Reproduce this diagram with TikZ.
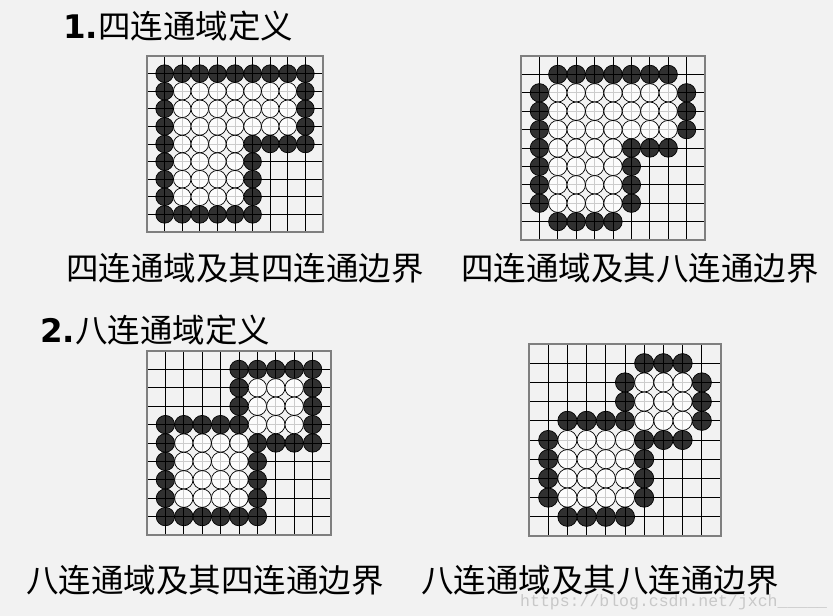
\documentclass[tikz,border=0pt]{standalone}
\usepackage{fontspec}
\newfontfamily\cjk{Noto Sans CJK SC}
\newfontfamily\numfont{DejaVu Sans}
\newfontfamily\wmfont{Liberation Mono}

\definecolor{paper}{HTML}{F2F2F2}
\definecolor{frame}{HTML}{7F7F7F}
\definecolor{stamp}{HTML}{C8C8C8}

% the empty 10x10 board, lines on the integers
\newcommand{\board}{%
  \foreach \i in {1,...,9} {
    \draw[gridline] (\i,0) -- (\i,10);
    \draw[gridline] (0,\i) -- (10,\i);
  }
  \draw[border] (0,0) rectangle (10,10);}
% one row of stones: style, row, columns
\newcommand{\stonerow}[3]{\foreach \c in {#3} { \filldraw[#1] (\c,#2) circle[radius=0.5]; }}

\begin{document}
\begin{tikzpicture}[
  x=1pt, y=-1pt,
  gridline/.style={line width=0.9pt, draw=black},
  border/.style={line width=1.6pt, draw=frame},
  bk/.style={fill=black, fill opacity=0.8, draw=black, line width=0.7pt},
  wt/.style={fill=white, fill opacity=0.8, draw=black, line width=0.7pt},
  head/.style={font=\fontsize{32.5}{36}\selectfont, inner sep=0pt, anchor=west},
  caption/.style={font=\cjk\fontsize{32.5}{36}\selectfont, inner sep=0pt},
]

\useasboundingbox (0,0) rectangle (833,616);
\fill[paper] (0,0) rectangle (833,616);

% ── headings ──────────────────────────────────────────────────────────────
\node[head] (title1) at (63,26) {{\numfont\bfseries 1.}{\cjk 四连通域定义}};
\node[head] (title2) at (40,330) {{\numfont\bfseries 2.}{\cjk 八连通域定义}};

% ── four-connected region, four-connected border ─────────────────────────
\begin{scope}[shift={(147,56)}, x=17.6pt, y=-17.6pt]
  \board
  \stonerow{bk}{1}{1,...,9}
  \foreach \r in {2,3,4} { \stonerow{bk}{\r}{1,9} \stonerow{wt}{\r}{2,...,8} }
  \stonerow{bk}{5}{1,6,7,8,9} \stonerow{wt}{5}{2,...,5}
  \foreach \r in {6,7,8} { \stonerow{bk}{\r}{1,6} \stonerow{wt}{\r}{2,...,5} }
  \stonerow{bk}{9}{1,...,6}
\end{scope}

% ── four-connected region, eight-connected border ────────────────────────
\begin{scope}[shift={(521,56)}, x=18.4pt, y=-18.4pt]
  \board
  \stonerow{bk}{1}{2,...,8}
  \foreach \r in {2,3,4} { \stonerow{bk}{\r}{1,9} \stonerow{wt}{\r}{2,...,8} }
  \stonerow{bk}{5}{1,6,7,8} \stonerow{wt}{5}{2,...,5}
  \foreach \r in {6,7,8} { \stonerow{bk}{\r}{1,6} \stonerow{wt}{\r}{2,...,5} }
  \stonerow{bk}{9}{2,...,5}
\end{scope}

% ── eight-connected region, four-connected border ────────────────────────
\begin{scope}[shift={(147,351)}, x=18.4pt, y=-18.4pt]
  \board
  \stonerow{bk}{1}{5,...,9}
  \foreach \r in {2,3} { \stonerow{bk}{\r}{5,9} \stonerow{wt}{\r}{6,7,8} }
  \stonerow{bk}{4}{1,...,5,9} \stonerow{wt}{4}{6,7,8}
  \stonerow{bk}{5}{1,6,7,8,9} \stonerow{wt}{5}{2,...,5}
  \foreach \r in {6,7,8} { \stonerow{bk}{\r}{1,6} \stonerow{wt}{\r}{2,...,5} }
  \stonerow{bk}{9}{1,...,6}
\end{scope}

% ── eight-connected region, eight-connected border ───────────────────────
\begin{scope}[shift={(529,344)}, x=19.2pt, y=-19.2pt]
  \board
  \stonerow{bk}{1}{6,7,8}
  \foreach \r in {2,3} { \stonerow{bk}{\r}{5,9} \stonerow{wt}{\r}{6,7,8} }
  \stonerow{bk}{4}{2,...,5,9} \stonerow{wt}{4}{6,7,8}
  \stonerow{bk}{5}{1,6,7,8} \stonerow{wt}{5}{2,...,5}
  \foreach \r in {6,7,8} { \stonerow{bk}{\r}{1,6} \stonerow{wt}{\r}{2,...,5} }
  \stonerow{bk}{9}{2,...,5}
\end{scope}

% ── captions ──────────────────────────────────────────────────────────────
\node[caption] (cap1) at (245,268) {四连通域及其四连通边界};
\node[caption] (cap2) at (640,268) {四连通域及其八连通边界};
\node[caption] (cap3) at (205,580) {八连通域及其四连通边界};
\node[caption] (cap4) at (600,580) {八连通域及其八连通边界};

% the faint web address in the corner
\node[font=\wmfont\fontsize{16.5}{18}\selectfont, text=stamp, inner sep=0pt, anchor=west]
  (wm) at (520,602) {https://blog.csdn.net/jxch\_\_\_\_\_};

\end{tikzpicture}
\end{document}
